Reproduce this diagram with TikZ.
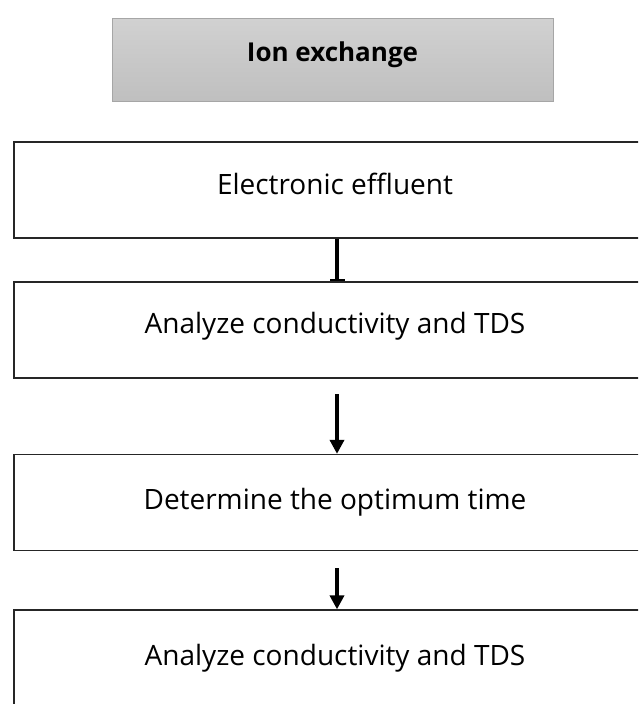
\documentclass[tikz,border=0pt]{standalone}
\usepackage{fontspec}
\setmainfont{Open Sans}
\usetikzlibrary{arrows.meta}
\begin{document}
\begin{tikzpicture}[x=1pt,y=-1pt,
  stepbox/.style={draw=black!85,line width=1.3pt,fill=white,minimum width=642pt,minimum height=96pt,inner sep=0pt,font=\fontsize{28}{32}\selectfont},
  titlebox/.style={draw=black!35,line width=1pt,top color=black!18,bottom color=black!25,minimum width=441pt,minimum height=83pt,inner sep=0pt,font=\fontsize{26}{30}\selectfont\bfseries},
  flow/.style={line width=3.5pt,-{Triangle[length=14pt,width=14pt]}},
  bar/.style={line width=4pt,-{Rectangle[length=2pt,width=15pt]}}
]
\useasboundingbox (0,0) rectangle (638,704);
\clip (0,0) rectangle (638,704);
\node[titlebox] (title) at (332.5,59.5) {\raisebox{16pt}{Ion exchange}};
\node[stepbox] (b1) at (335,190) {\raisebox{12pt}{Electronic effluent}};
\node[stepbox] (b2) at (335,330) {\raisebox{14pt}{Analyze conductivity and TDS}};
\node[stepbox] (b3) at (335,502.5) {\raisebox{5pt}{Determine the optimum time}};
\node[stepbox] (b4) at (335,658) {\raisebox{-3pt}{Analyze conductivity and TDS}};
\coordinate (s2) at (337,394);
\coordinate (s3) at (337,568);
\draw[bar] (b1.south -| s2) -- (b2.north -| s2);
\draw[flow] (s2) -- (b3.north -| s2);
\draw[flow] (s3) -- (b4.north -| s3);
\end{tikzpicture}
\end{document}
